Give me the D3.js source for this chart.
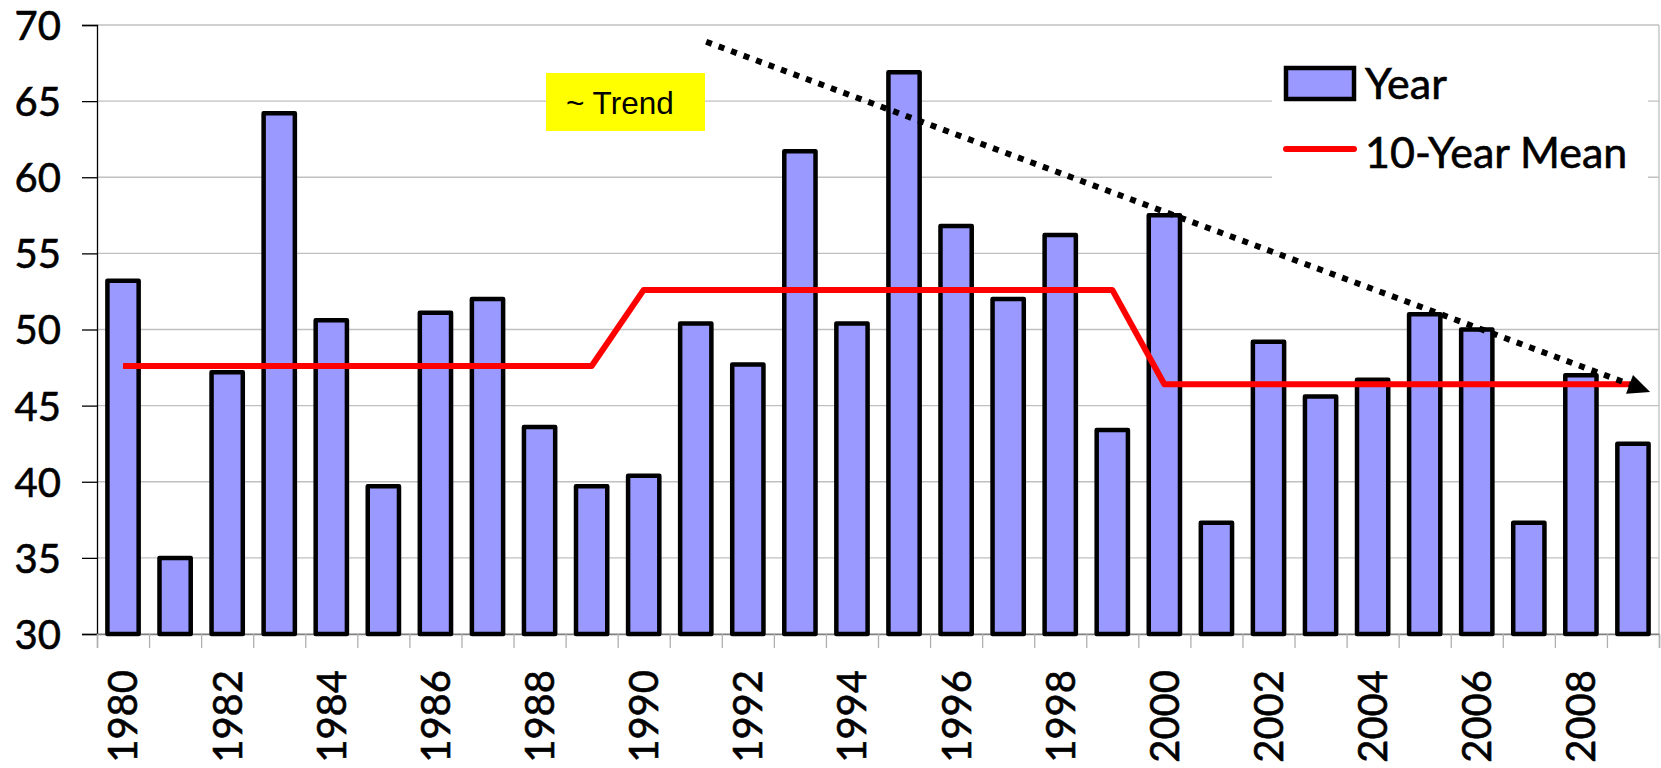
<!DOCTYPE html>
<html>
<head>
<meta charset="utf-8">
<script src="https://cdn.jsdelivr.net/npm/d3@7"></script>
<style>
  body { margin: 0; background: #fff; }
  svg { display: block; }
</style>
</head>
<body>
<svg id="chart" width="1661" height="768"></svg>
<script>
// yearly values
var years = d3.range(1980, 2010);
var yearValues = [53.2, 35.0, 47.2, 64.2, 50.6, 39.7, 51.1, 52.0, 43.6, 39.7,
                  40.4, 50.4, 47.7, 61.7, 50.4, 66.9, 56.8, 52.0, 56.2, 43.4,
                  57.5, 37.3, 49.2, 45.6, 46.7, 51.0, 50.0, 37.3, 47.0, 42.5];
// 10-year means, one per decade
var decades = [1980, 1990, 2000];
var decadeMeans = [47.6, 52.6, 46.4];
var yTicks = [30, 35, 40, 45, 50, 55, 60, 65, 70];
// hand drawn trend arrow, [year position, value]
var trendStart = [1991.7, 68.9];
var trendEnd = [2009.83, 45.9];
var trendLabel = '~ Trend';
var legendLabels = ['Year', '10-Year Mean'];

var svg = d3.select('#chart');
var plotLeft = 97, plotRight = 1659, plotTop = 25, plotBottom = 634;
var labelFont = 'Lato, sans-serif';

var x = d3.scaleBand().domain(years).range([plotLeft, plotRight]).paddingInner(0.4).paddingOuter(0.2);
var xPos = d3.scaleLinear().domain([1980, 2010]).range([plotLeft, plotRight]);
var y = d3.scaleLinear().domain([30, 70]).range([plotBottom, plotTop]);

var meanByYear = years.map(function(yr) {
	return { year: yr, value: decadeMeans[decades.indexOf(Math.floor(yr / 10) * 10)] };
});

// gridlines
svg.append('g').selectAll('line').data(yTicks).enter().append('line')
	.attr('x1', plotLeft).attr('x2', plotRight)
	.attr('y1', d => y(d)).attr('y2', d => y(d))
	.attr('stroke', '#c0c0c0').attr('stroke-width', 1.3);
svg.append('line').attr('x1', plotRight).attr('x2', plotRight).attr('y1', plotTop).attr('y2', plotBottom)
	.attr('stroke', '#c0c0c0').attr('stroke-width', 1.3);

// y axis
var yAxis = svg.append('g').attr('transform', 'translate(' + plotLeft + ',0)')
	.call(d3.axisLeft(y).tickValues(yTicks).tickSize(15).tickPadding(21));
yAxis.select('.domain').attr('stroke', '#000').attr('stroke-width', 1.3);
yAxis.selectAll('.tick line').attr('stroke', '#000').attr('stroke-width', 1.3);
yAxis.selectAll('text').attr('font-family', labelFont).attr('font-size', 40)
	.attr('fill', '#000').attr('stroke', '#000').attr('stroke-width', 0.6).attr('dy', '0.36em');

// x axis: tick marks on category edges
var xTickAxis = svg.append('g').attr('transform', 'translate(0,' + plotBottom + ')')
	.call(d3.axisBottom(xPos).tickValues(d3.range(1980, 2011)).tickSize(14).tickFormat(''));
xTickAxis.select('.domain').attr('stroke', '#808080').attr('stroke-width', 1.3);
xTickAxis.selectAll('.tick line').attr('stroke', '#b0b0b0').attr('stroke-width', 1.3);

var xLabels = svg.append('g').attr('transform', 'translate(0,' + plotBottom + ')')
	.call(d3.axisBottom(x).tickSize(0).tickFormat(d => d % 2 === 0 ? d : ''));
xLabels.select('.domain').remove();
xLabels.selectAll('text')
	.attr('font-family', labelFont).attr('font-size', 40).attr('fill', '#000')
	.attr('stroke', '#000').attr('stroke-width', 0.6)
	.attr('text-anchor', 'end')
	.attr('transform', 'rotate(-90)')
	.attr('x', -36).attr('y', 0).attr('dy', '0.36em');

// bars
svg.append('g').selectAll('rect').data(years).enter().append('rect')
	.attr('x', d => x(d))
	.attr('y', (d, i) => y(yearValues[i]))
	.attr('width', x.bandwidth())
	.attr('height', (d, i) => y(30) - y(yearValues[i]))
	.attr('fill', '#9999ff').attr('stroke', '#000').attr('stroke-width', 4.5)
	.attr('stroke-linejoin', 'round');

// 10-year mean line
var line = d3.line().x(d => x(d.year) + x.bandwidth() / 2).y(d => y(d.value));
svg.append('path').datum(meanByYear).attr('d', line)
	.attr('fill', 'none').attr('stroke', '#ff0000').attr('stroke-width', 6)
	.attr('stroke-linejoin', 'round');

// trend label box
svg.append('rect').attr('x', 546).attr('y', 73).attr('width', 159).attr('height', 58).attr('fill', '#ffff00');
svg.append('text').attr('x', 566).attr('y', 114).text(trendLabel)
	.attr('font-family', 'Liberation Sans, Arial, sans-serif').attr('font-size', 31.5).attr('fill', '#000');

// dotted trend arrow
var x0 = xPos(trendStart[0]), y0 = y(trendStart[1]);
var x1 = xPos(trendEnd[0]), y1 = y(trendEnd[1]);
var ang = Math.atan2(y1 - y0, x1 - x0);
var headLen = 22, headHalf = 10;
var bx = x1 - headLen * Math.cos(ang), by = y1 - headLen * Math.sin(ang);
svg.append('line').attr('x1', x0).attr('y1', y0).attr('x2', bx).attr('y2', by)
	.attr('stroke', '#000').attr('stroke-width', 6).attr('stroke-dasharray', '6,7.3');
svg.append('path')
	.attr('d', 'M' + x1 + ',' + y1 +
		'L' + (bx + headHalf * Math.sin(ang)) + ',' + (by - headHalf * Math.cos(ang)) +
		'L' + (bx - headHalf * Math.sin(ang)) + ',' + (by + headHalf * Math.cos(ang)) + 'Z')
	.attr('fill', '#000');

// legend
var legend = svg.append('g');
legend.append('rect').attr('x', 1272).attr('y', 45).attr('width', 376).attr('height', 150).attr('fill', '#fff');
legend.append('rect').attr('x', 1286).attr('y', 68).attr('width', 68).attr('height', 31)
	.attr('fill', '#9999ff').attr('stroke', '#000').attr('stroke-width', 4.5);
legend.append('line').attr('x1', 1286).attr('x2', 1354).attr('y1', 149).attr('y2', 149)
	.attr('stroke', '#ff0000').attr('stroke-width', 6).attr('stroke-linecap', 'round');
legend.selectAll('text.lab').data(legendLabels).enter().append('text').attr('class', 'lab')
	.attr('x', 1365).attr('y', (d, i) => 99 + i * 69)
	.attr('font-family', labelFont).attr('font-size', 43).attr('fill', '#000')
	.attr('stroke', '#000').attr('stroke-width', 0.6)
	.text(d => d);
</script>
</body>
</html>
